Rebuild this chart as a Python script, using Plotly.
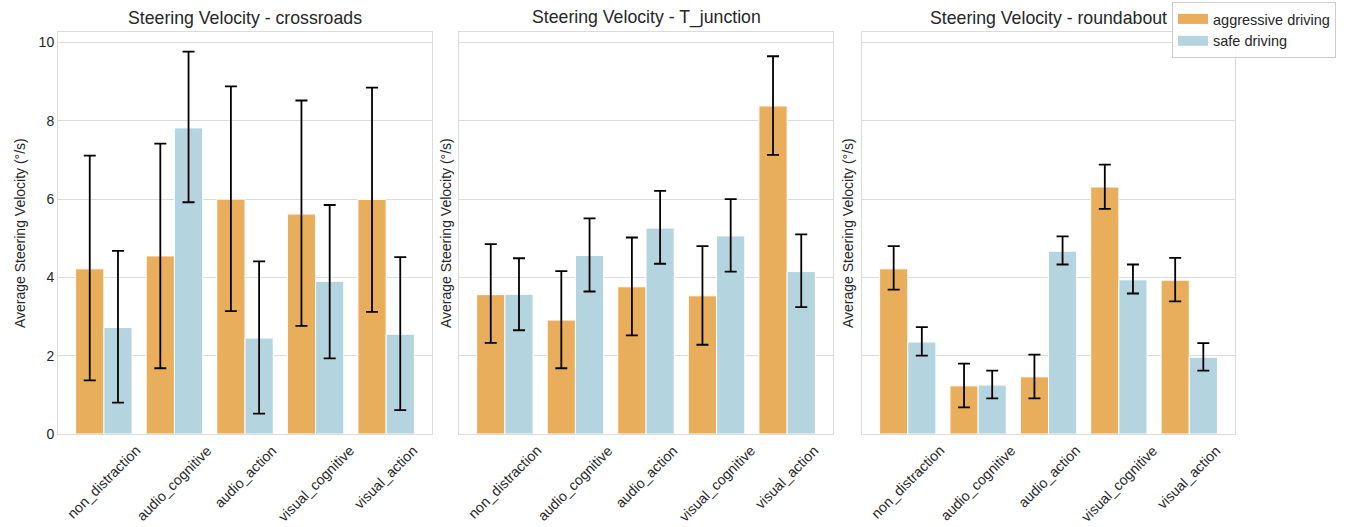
import plotly.graph_objects as go

categories = ["non_distraction", "audio_cognitive", "audio_action", "visual_cognitive", "visual_action"]
scenarios = ["crossroads", "T_junction", "roundabout"]
series_names = ["aggressive driving", "safe driving"]

# mean values
aggr_cross = [4.22, 4.55, 6.00, 5.62, 5.99]
safe_cross = [2.72, 7.82, 2.45, 3.90, 2.55]
aggr_tj = [3.56, 2.91, 3.76, 3.53, 8.38]
safe_tj = [3.57, 4.56, 5.26, 5.06, 4.15]
aggr_rb = [4.22, 1.23, 1.46, 6.31, 3.93]
safe_rb = [2.35, 1.25, 4.67, 3.94, 1.96]

# error bar upper / lower bounds
aggr_cross_hi = [7.11, 7.42, 8.88, 8.52, 8.85]
aggr_cross_lo = [1.37, 1.68, 3.14, 2.76, 3.12]
safe_cross_hi = [4.68, 9.77, 4.41, 5.85, 4.52]
safe_cross_lo = [0.80, 5.92, 0.52, 1.93, 0.61]
aggr_tj_hi = [4.85, 4.16, 5.02, 4.80, 9.65]
aggr_tj_lo = [2.33, 1.68, 2.52, 2.28, 7.13]
safe_tj_hi = [4.49, 5.51, 6.21, 6.00, 5.10]
safe_tj_lo = [2.65, 3.64, 4.35, 4.15, 3.24]
aggr_rb_hi = [4.80, 1.80, 2.03, 6.88, 4.50]
aggr_rb_lo = [3.69, 0.68, 0.91, 5.75, 3.39]
safe_rb_hi = [2.73, 1.62, 5.05, 4.33, 2.32]
safe_rb_lo = [2.00, 0.91, 4.33, 3.59, 1.62]

y_ticks = [0, 2, 4, 6, 8, 10]
y_title = "Average Steering Velocity (°/s)"

AGG_COLOR = "#E8AE5B"
SAFE_COLOR = "#B4D5E0"
TEXT = "#262626"
GRID = "#dcdcdc"
FONT = "Liberation Sans, Arial, sans-serif"

panels = [
    (aggr_cross, aggr_cross_hi, aggr_cross_lo, safe_cross, safe_cross_hi, safe_cross_lo),
    (aggr_tj, aggr_tj_hi, aggr_tj_lo, safe_tj, safe_tj_hi, safe_tj_lo),
    (aggr_rb, aggr_rb_hi, aggr_rb_lo, safe_rb, safe_rb_hi, safe_rb_lo),
]


def err(vals, hi, lo):
    return dict(type="data", symmetric=False,
                array=[h - v for h, v in zip(hi, vals)],
                arrayminus=[v - l for v, l in zip(vals, lo)],
                color="black", thickness=1.8, width=6)


fig = go.Figure()
for i, (a, ahi, alo, s, shi, slo) in enumerate(panels):
    xa = "x" if i == 0 else f"x{i+1}"
    ya = "y" if i == 0 else f"y{i+1}"
    fig.add_trace(go.Bar(
        x=categories, y=a, name=series_names[0], showlegend=False,
        marker=dict(color=AGG_COLOR, line=dict(color="white", width=1)),
        error_y=err(a, ahi, alo), xaxis=xa, yaxis=ya))
    fig.add_trace(go.Bar(
        x=categories, y=s, name=series_names[1], showlegend=False,
        marker=dict(color=SAFE_COLOR, line=dict(color="white", width=1)),
        error_y=err(s, shi, slo), xaxis=xa, yaxis=ya))

# legend proxies (wide rectangular swatches)
for name, col in zip(series_names, [AGG_COLOR, SAFE_COLOR]):
    fig.add_trace(go.Scatter(x=[None], y=[None], mode="lines", name=name,
                             line=dict(color=col, width=10), showlegend=True,
                             xaxis="x", yaxis="y"))

W, H = 1351, 527
L, R, T, B = 58, 1235, 32, 434
pw = R - L
px_domains = [(58, 432), (459, 833), (862, 1235)]
domains = [((a - L) / pw, (b - L) / pw) for a, b in px_domains]
ytitle_px = [20, 446, 848]

layout = dict(
    width=W, height=H,
    margin=dict(l=L, r=W - R, t=T, b=H - B, autoexpand=False),
    plot_bgcolor="white", paper_bgcolor="white",
    font=dict(family=FONT, color=TEXT, size=13),
    barmode="group", bargap=0.2, bargroupgap=0,
    legend=dict(xref="container", yref="container", x=1172 / W, y=1 - 2 / H,
                xanchor="left", yanchor="top", bgcolor="rgba(255,255,255,0.85)",
                bordercolor="#cccccc", borderwidth=1, font=dict(size=14.5, color=TEXT),
                tracegroupgap=0, itemwidth=30),
    showlegend=True,
)

annotations = []
for i, (d0, d1) in enumerate(domains):
    xk = "xaxis" if i == 0 else f"xaxis{i+1}"
    yk = "yaxis" if i == 0 else f"yaxis{i+1}"
    xref = "x" if i == 0 else f"x{i+1}"
    layout[xk] = dict(domain=[d0, d1], anchor="y" if i == 0 else f"y{i+1}",
                      type="category", range=[-0.65, 4.65],
                      showline=True, mirror=True, linecolor=GRID, linewidth=1,
                      showgrid=False, ticks="", showticklabels=False,
                      categoryorder="array", categoryarray=categories,
                      automargin=False)
    yd = dict(domain=[0, 1], anchor="x" if i == 0 else f"x{i+1}",
              range=[0, 10.27], tickvals=y_ticks,
              showline=True, mirror=True, linecolor=GRID, linewidth=1,
              showgrid=True, gridcolor=GRID, gridwidth=1, zeroline=False,
              ticks="", tickfont=dict(size=14, color=TEXT), automargin=False)
    if i > 0:
        yd["matches"] = "y"
        yd["showticklabels"] = False
    layout[yk] = yd
    # subplot title
    annotations.append(dict(text=f"Steering Velocity - {scenarios[i]}",
                            xref="paper", yref="paper", x=(d0 + d1) / 2, y=1,
                            xanchor="center", yanchor="bottom", yshift=2,
                            showarrow=False, font=dict(size=17.7, color=TEXT)))
    # y-axis title
    annotations.append(dict(text=y_title, textangle=-90,
                            xref="paper", yref="paper", x=(ytitle_px[i] - L) / pw, y=0.5,
                            xanchor="center", yanchor="middle", showarrow=False,
                            font=dict(size=14, color=TEXT)))
    # rotated category labels, centred under each category
    for c in categories:
        annotations.append(dict(text=c, textangle=-45, xref=xref, yref="paper",
                                x=c, y=0, xanchor="center", yanchor="top", yshift=-6,
                                showarrow=False, font=dict(size=14.2, color=TEXT)))
layout["annotations"] = annotations
fig.update_layout(**layout)

fig.write_html("out.html", config={"displayModeBar": False},
               post_script="document.body.style.margin='0';document.body.style.overflow='hidden';")
